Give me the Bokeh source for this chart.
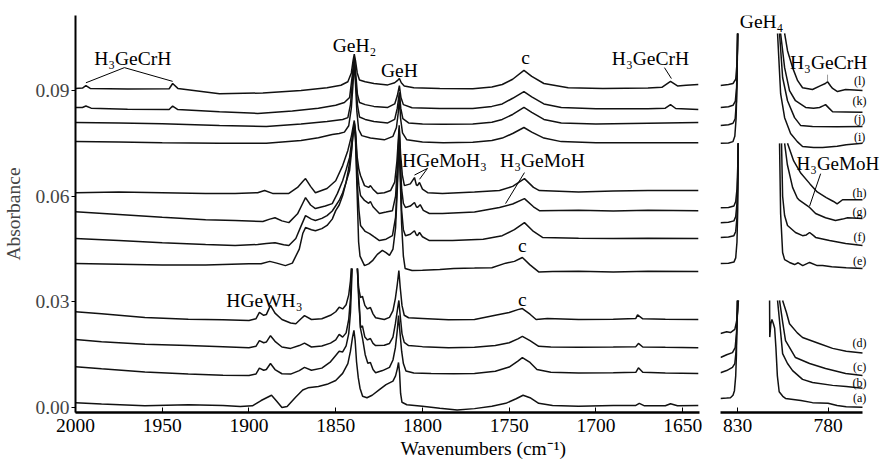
import numpy as np
from bokeh.plotting import figure
from bokeh.layouts import row
from bokeh.models import Range1d, FixedTicker, PrintfTickFormatter, Label, Title
from bokeh.embed import file_html
from bokeh.resources import INLINE

NAN = float("nan")
GAP = (NAN, NAN)

# ---------------- left panel spectra (wavenumber cm-1, absorbance) ----------------
a_left = [(2000, 0.0014), (1985, 0.0010), (1960, 0.0005), (1935, 0.0008), (1915, 0.0006), (1905, 0.0003),
          (1898, 0.0005), (1893, 0.0020), (1887, 0.0035), (1884, 0.0018), (1881, 0.0000), (1878, 0.0003),
          (1873, 0.0030), (1869, 0.0050), (1866, 0.0056), (1860, 0.0060), (1855, 0.0066), (1850, 0.0077),
          (1846, 0.0097), (1843, 0.0125), (1841.5, 0.0160), (1840.3, 0.0200), (1839.5, 0.0219), (1838.8, 0.0190),
          (1838, 0.0130), (1837, 0.0085), (1836, 0.0055), (1834.5, 0.0032), (1832, 0.0028), (1829, 0.0035),
          (1825, 0.0050), (1821, 0.0065), (1819, 0.0070), (1817, 0.0075), (1815.5, 0.0090), (1814.5, 0.0110),
          (1813.8, 0.0128), (1813.2, 0.0100), (1812.6, 0.0040), (1811.8, 0.0015), (1809, 0.0008), (1800, 0.0004),
          (1790, -0.0002), (1780, -0.0007), (1770, -0.0003), (1760, 0.0004), (1752, 0.0012), (1746, 0.0025),
          (1742, 0.0035), (1738, 0.0028), (1733, 0.0012), (1725, 0.0006), (1710, 0.0004), (1690, 0.0006),
          (1677, 0.0006), (1675, 0.0012), (1672, 0.0005), (1660, 0.0005), (1657, 0.0011), (1653, 0.0005),
          (1641, 0.0006)]

b_left = [(2000, 0.0116), (1985, 0.0110), (1960, 0.0101), (1935, 0.0095), (1915, 0.0092), (1900, 0.0091),
          (1896, 0.0095), (1894, 0.0112), (1891.5, 0.0106), (1890, 0.0108), (1887.6, 0.0125), (1885, 0.0108),
          (1881, 0.0096), (1876, 0.0095), (1871, 0.0105), (1868, 0.0114), (1864, 0.0106), (1858, 0.0112),
          (1853, 0.0130), (1850, 0.0148), (1848, 0.0160), (1846, 0.0158), (1844, 0.0175), (1842.5, 0.0210),
          (1841.5, 0.0270), (1840.5, 0.0395), GAP, (1837.5, 0.0395), (1836.5, 0.0300), (1835.7, 0.0224),
          (1834.5, 0.0195), (1833, 0.0150), (1831.5, 0.0126), (1830, 0.0128), (1828.5, 0.0108), (1827, 0.0099),
          (1823, 0.0105), (1819, 0.0114), (1817, 0.0135), (1815.6, 0.0170), (1814.5, 0.0220), (1813.8, 0.0261),
          (1813, 0.0215), (1812, 0.0160), (1811, 0.0125), (1809.5, 0.0104), (1805, 0.0098), (1795, 0.0097),
          (1782, 0.0096), (1770, 0.0097), (1758, 0.0103), (1750, 0.0115), (1745, 0.0132), (1742.4, 0.0142),
          (1738, 0.0128), (1734, 0.0108), (1726, 0.0100), (1710, 0.0098), (1690, 0.0099), (1677, 0.0100),
          (1675.5, 0.0113), (1673, 0.0100), (1660, 0.0098), (1641, 0.0097)]

c_left = [(2000, 0.0193), (1985, 0.0187), (1960, 0.0180), (1935, 0.0176), (1915, 0.0173), (1900, 0.0170),
          (1896, 0.0174), (1894, 0.0190), (1891.5, 0.0184), (1890, 0.0186), (1887.6, 0.0204), (1885, 0.0188),
          (1881, 0.0172), (1876, 0.0168), (1871, 0.0176), (1868, 0.0183), (1864, 0.0172), (1858, 0.0175),
          (1853, 0.0183), (1850, 0.0192), (1848, 0.0208), (1846, 0.0200), (1844, 0.0212), (1842.5, 0.0250),
          (1841.5, 0.0310), (1840.8, 0.0395), GAP, (1837.5, 0.0395), (1836.7, 0.0300), (1835.7, 0.0227),
          (1834.6, 0.0232), (1833.2, 0.0200), (1831.7, 0.0192), (1830, 0.0196), (1828.5, 0.0182), (1827, 0.0176),
          (1822, 0.0177), (1819, 0.0182), (1817, 0.0200), (1815.6, 0.0238), (1814.5, 0.0275), (1813.6, 0.0304),
          (1812.8, 0.0260), (1811.8, 0.0210), (1810.5, 0.0185), (1808, 0.0176), (1800, 0.0173), (1785, 0.0170),
          (1770, 0.0171), (1758, 0.0176), (1750, 0.0184), (1745, 0.0195), (1742.4, 0.0202), (1738, 0.0190),
          (1733, 0.0174), (1726, 0.0172), (1710, 0.0171), (1690, 0.0172), (1677, 0.0173), (1675.5, 0.0182),
          (1673, 0.0172), (1660, 0.0171), (1641, 0.0170)]

d_left = [(2000, 0.0272), (1985, 0.0266), (1960, 0.0256), (1935, 0.0251), (1915, 0.0249), (1900, 0.0247),
          (1896, 0.0252), (1894, 0.0270), (1891.5, 0.0262), (1890, 0.0264), (1887.6, 0.0290), (1885, 0.0268),
          (1881, 0.0250), (1876, 0.0240), (1873, 0.0238), (1870, 0.0252), (1868, 0.0261), (1864, 0.0250),
          (1858, 0.0252), (1853, 0.0262), (1850, 0.0272), (1848, 0.0285), (1846, 0.0280), (1844, 0.0292),
          (1842.5, 0.0320), (1841.5, 0.0360), (1841, 0.0395), GAP, (1837.5, 0.0395), (1836.8, 0.0340),
          (1835.7, 0.0312), (1834.6, 0.0316), (1833.2, 0.0290), (1831.7, 0.0280), (1830, 0.0284), (1828.5, 0.0266),
          (1827, 0.0255), (1822, 0.0250), (1819, 0.0256), (1817, 0.0275), (1815.6, 0.0310), (1814.5, 0.0350),
          (1813.6, 0.0389), (1812.8, 0.0340), (1811.8, 0.0290), (1810.5, 0.0262), (1808, 0.0255), (1800, 0.0253),
          (1785, 0.0249), (1770, 0.0250), (1758, 0.0262), (1750, 0.0270), (1745, 0.0278), (1742.4, 0.0281),
          (1738, 0.0265), (1734.5, 0.0250), (1728, 0.0253), (1710, 0.0250), (1690, 0.0251), (1677, 0.0253),
          (1676, 0.0263), (1673, 0.0252), (1660, 0.0251), (1641, 0.0250)]

e_left = [(2000, 0.0409), (1975, 0.0407), (1950, 0.0405), (1925, 0.0405), (1900, 0.0408), (1893, 0.0408),
          (1888, 0.0415), (1884, 0.0410), (1879, 0.0403), (1875, 0.0410), (1871, 0.0450), (1869, 0.0494),
          (1867.4, 0.0511), (1864, 0.0505), (1861.7, 0.0502), (1858, 0.0508), (1855, 0.0517), (1852, 0.0535),
          (1850, 0.0559), (1848, 0.0575), (1846, 0.0602), (1844, 0.0640), (1842.5, 0.0680), (1841, 0.0730),
          (1840, 0.0775), (1839.3, 0.0801), (1838.6, 0.0760), (1837.6, 0.0600), (1836.8, 0.0470), (1836, 0.0430),
          (1833.4, 0.0403), (1831, 0.0408), (1828.8, 0.0417), (1826, 0.0435), (1823.1, 0.0446), (1821, 0.0440),
          (1819, 0.0432), (1817, 0.0450), (1815.5, 0.0510), (1814.5, 0.0620), (1813.5, 0.0758), (1812.8, 0.0650),
          (1812, 0.0520), (1811, 0.0430), (1810, 0.0395), (1806, 0.0389), (1800, 0.0390), (1790, 0.0392),
          (1782, 0.0395), (1770, 0.0396), (1760, 0.0397), (1752, 0.0410), (1747, 0.0415), (1742.4, 0.0426),
          (1738, 0.0405), (1733, 0.0385), (1725, 0.0386), (1710, 0.0387), (1690, 0.0385), (1670, 0.0387),
          (1641, 0.0386)]

f_left = [(2000, 0.0480), (1975, 0.0474), (1950, 0.0468), (1925, 0.0463), (1908, 0.0460), (1895, 0.0463),
          (1890, 0.0466), (1885, 0.0468), (1880, 0.0462), (1877, 0.0460), (1873, 0.0480), (1870, 0.0515),
          (1867.4, 0.0545), (1864, 0.0535), (1861.7, 0.0531), (1858, 0.0537), (1855, 0.0545), (1852, 0.0558),
          (1850, 0.0573), (1848, 0.0588), (1846, 0.0610), (1844, 0.0640), (1842, 0.0673), (1840.8, 0.0730),
          (1840, 0.0780), (1839.3, 0.0806), (1838.6, 0.0770), (1837.6, 0.0640), (1836.6, 0.0560), (1835.7, 0.0517),
          (1833, 0.0500), (1830.5, 0.0494), (1828, 0.0485), (1824.8, 0.0474), (1821, 0.0478), (1817.3, 0.0488),
          (1815.5, 0.0540), (1814.5, 0.0640), (1813.4, 0.0786), (1812.8, 0.0680), (1812, 0.0560), (1811, 0.0505),
          (1809.8, 0.0488), (1807, 0.0492), (1804.6, 0.0502), (1803.5, 0.0490), (1802.9, 0.0488), (1801.7, 0.0497),
          (1800, 0.0485), (1796, 0.0474), (1782.7, 0.0474), (1765, 0.0478), (1754, 0.0488), (1747, 0.0505),
          (1741.2, 0.0525), (1736, 0.0500), (1730.8, 0.0483), (1710, 0.0481), (1690, 0.0480), (1670, 0.0481),
          (1641, 0.0480)]

g_left = [(2000, 0.0556), (1975, 0.0548), (1950, 0.0540), (1925, 0.0533), (1908, 0.0531), (1892, 0.0528),
          (1888, 0.0535), (1885, 0.0539), (1881, 0.0530), (1877, 0.0525), (1872, 0.0550), (1869, 0.0580),
          (1867.4, 0.0596), (1864.5, 0.0575), (1861.7, 0.0565), (1856, 0.0572), (1852, 0.0579), (1849, 0.0608),
          (1846, 0.0644), (1844, 0.0675), (1842, 0.0710), (1840.5, 0.0765), (1839.3, 0.0809), (1838.6, 0.0780),
          (1837.6, 0.0680), (1836.6, 0.0630), (1835.7, 0.0602), (1833.4, 0.0588), (1831, 0.0580), (1830, 0.0585),
          (1828.5, 0.0570), (1824.8, 0.0551), (1821, 0.0555), (1817.3, 0.0559), (1815.5, 0.0600), (1814.5, 0.0680),
          (1813.4, 0.0792), (1812.8, 0.0700), (1812, 0.0620), (1811, 0.0580), (1809.8, 0.0568), (1807, 0.0572),
          (1804.6, 0.0582), (1803.5, 0.0570), (1802.9, 0.0568), (1801.3, 0.0576), (1799.5, 0.0560), (1796, 0.0551),
          (1788.5, 0.0551), (1770, 0.0555), (1755.6, 0.0568), (1748, 0.0578), (1741.2, 0.0593), (1736, 0.0570),
          (1732.6, 0.0559), (1710, 0.0560), (1690, 0.0558), (1670, 0.0560), (1641, 0.0559)]

h_left = [(2000, 0.0610), (1975, 0.0612), (1950, 0.0610), (1925, 0.0608), (1908, 0.0608), (1895, 0.0610),
          (1891, 0.0616), (1886.4, 0.0608), (1877, 0.0608), (1872, 0.0625), (1869, 0.0642), (1867.4, 0.0650),
          (1864.5, 0.0628), (1861.7, 0.0610), (1855, 0.0622), (1850, 0.0644), (1846, 0.0687), (1843, 0.0730),
          (1841, 0.0770), (1839.3, 0.0815), (1838.6, 0.0785), (1837.6, 0.0710), (1836.6, 0.0675), (1835.7, 0.0659),
          (1833.4, 0.0630), (1831, 0.0625), (1830, 0.0630), (1828.5, 0.0620), (1826, 0.0608), (1822, 0.0610),
          (1818.4, 0.0616), (1816, 0.0640), (1814.7, 0.0700), (1813.4, 0.0801), (1812.6, 0.0720), (1811.6, 0.0660),
          (1810.4, 0.0630), (1807, 0.0635), (1804.6, 0.0653), (1803.5, 0.0632), (1802.9, 0.0630), (1801.7, 0.0639),
          (1800, 0.0620), (1797, 0.0610), (1788.5, 0.0608), (1770, 0.0612), (1755.6, 0.0616), (1748, 0.0628),
          (1741.2, 0.0650), (1736, 0.0625), (1732.6, 0.0616), (1710, 0.0612), (1690, 0.0615), (1670, 0.0616),
          (1641, 0.0616)]

i_left = [(2000, 0.0755), (1975, 0.0754), (1950, 0.0752), (1917, 0.0750), (1890, 0.0750), (1870, 0.0758),
          (1860, 0.0766), (1852, 0.0775), (1848, 0.0778), (1845, 0.0782), (1842.5, 0.0800), (1841, 0.0850),
          (1840, 0.0920), (1839.3, 0.0985), (1838.6, 0.0920), (1837.8, 0.0840), (1836.8, 0.0790), (1835, 0.0772),
          (1830, 0.0765), (1822, 0.0760), (1817, 0.0770), (1815, 0.0795), (1814, 0.0835), (1813.3, 0.0880),
          (1812.6, 0.0820), (1811.5, 0.0780), (1809, 0.0760), (1800, 0.0754), (1788, 0.0752), (1771, 0.0753),
          (1760, 0.0758), (1754, 0.0765), (1748, 0.0778), (1741.5, 0.0795), (1737, 0.0782), (1730, 0.0765),
          (1720, 0.0755), (1700, 0.0752), (1670, 0.0752), (1641, 0.0752)]

j_left = [(2000, 0.0809), (1975, 0.0808), (1950, 0.0806), (1917, 0.0801), (1890, 0.0798), (1870, 0.0805),
          (1855, 0.0812), (1846, 0.0818), (1843, 0.0823), (1841.5, 0.0860), (1840.3, 0.0930), (1839.3, 0.0990),
          (1838.5, 0.0930), (1837.5, 0.0860), (1836.3, 0.0825), (1833, 0.0818), (1828, 0.0812), (1820, 0.0808),
          (1816, 0.0818), (1814.5, 0.0850), (1813.3, 0.0895), (1812.5, 0.0850), (1811.3, 0.0820), (1808, 0.0808),
          (1800, 0.0805), (1788, 0.0804), (1771, 0.0805), (1760, 0.0810), (1754, 0.0818), (1748, 0.0832),
          (1741.5, 0.0852), (1737, 0.0838), (1730, 0.0818), (1720, 0.0808), (1700, 0.0805), (1670, 0.0807),
          (1641, 0.0809)]

k_left = [(2000, 0.0852), (1996, 0.0852), (1994, 0.0856), (1991, 0.0850), (1970, 0.0847), (1946, 0.0846),
          (1944, 0.0856), (1941, 0.0846), (1917, 0.0840), (1895, 0.0835), (1875, 0.0842), (1860, 0.0850),
          (1850, 0.0858), (1845, 0.0866), (1842, 0.0880), (1840.5, 0.0940), (1839.3, 0.0995), (1838.5, 0.0950),
          (1837.5, 0.0890), (1836.3, 0.0866), (1833, 0.0860), (1828, 0.0855), (1820, 0.0852), (1816, 0.0862),
          (1814.5, 0.0885), (1813.3, 0.0914), (1812.4, 0.0880), (1811, 0.0860), (1806, 0.0851), (1790, 0.0849),
          (1771, 0.0849), (1760, 0.0855), (1754, 0.0862), (1748, 0.0878), (1741.5, 0.0897), (1737, 0.0882),
          (1730, 0.0862), (1720, 0.0852), (1700, 0.0848), (1670, 0.0848), (1660, 0.0850), (1657, 0.0860),
          (1654, 0.0849), (1641, 0.0846)]

l_left = [(2000, 0.0906), (1996, 0.0907), (1994, 0.0914), (1991.5, 0.0906), (1970, 0.0904), (1946, 0.0905),
          (1944, 0.0920), (1941, 0.0906), (1917, 0.0891), (1892, 0.0893), (1870, 0.0900), (1855, 0.0908),
          (1847, 0.0915), (1843, 0.0925), (1841, 0.0950), (1840, 0.0985), (1839.3, 0.1003), (1838.6, 0.0985),
          (1837.6, 0.0950), (1836.3, 0.0930), (1833, 0.0925), (1828, 0.0920), (1820, 0.0916), (1816, 0.0922),
          (1814.5, 0.0928), (1813.3, 0.0934), (1812.2, 0.0922), (1810.5, 0.0913), (1805, 0.0908), (1790, 0.0906),
          (1771, 0.0905), (1760, 0.0910), (1754, 0.0917), (1748, 0.0932), (1741.5, 0.0957), (1737, 0.0940),
          (1730, 0.0920), (1716, 0.0908), (1696, 0.0906), (1670, 0.0907), (1662, 0.0909), (1657, 0.0926),
          (1653, 0.0913), (1648, 0.0915), (1641, 0.0917)]

# ---------------- right panel spectra (GeH4 region) ----------------
a_right = [(839.4, 0.0026), (836, 0.0027), (833.9, 0.0028), (832.5, 0.0035), (831.7, 0.0048), (831, 0.0090),
           (830.6, 0.0150), (830.2, 0.0304), GAP, (812.3, 0.0304), (812.2, 0.0200), (811.6, 0.0238),
           (811.0, 0.0250), (810.2, 0.0238), (809.5, 0.0225), (808.8, 0.0170), (808.0, 0.0090), (807.0, 0.0045),
           (805, 0.0032), (803.5, 0.0026), (795, 0.0020), (788.6, 0.0014), (780, 0.0012), (775, 0.0006),
           (770, 0.0002), (761, 0.0001)]
b_right = [(839.4, 0.0099), (836, 0.0105), (832.8, 0.0114), (831.5, 0.0125), (830.8, 0.0160), (830.3, 0.0230),
           (829.9, 0.0304), GAP, (807.9, 0.0304), (806.5, 0.0230), (805.1, 0.0153), (802.4, 0.0125),
           (799.6, 0.0105), (794.1, 0.0080), (788.6, 0.0071), (777.5, 0.0063), (770, 0.0060), (761, 0.0055)]
c_right = [(839.4, 0.0142), (836, 0.0150), (832.8, 0.0156), (831.3, 0.0170), (830.6, 0.0210), (830.1, 0.0260),
           (829.7, 0.0304), GAP, (806.8, 0.0304), (805, 0.0240), (803.5, 0.0190), (798, 0.0142),
           (790.2, 0.0125), (781.4, 0.0111), (770.3, 0.0097), (761, 0.0091)]
d_right = [(839.4, 0.0210), (836, 0.0215), (833.9, 0.0213), (831.5, 0.0222), (830.5, 0.0245), (829.9, 0.0275),
           (829.5, 0.0304), GAP, (805.1, 0.0304), (803, 0.0270), (801.3, 0.0238), (797, 0.0212),
           (794.1, 0.0199), (785, 0.0182), (777.5, 0.0168), (770, 0.0160), (761, 0.0155)]
e_right = [(839.4, 0.0409), (835, 0.0410), (832, 0.0413), (831, 0.0425), (830.3, 0.0470), (829.9, 0.0560),
           (829.6, 0.0750), GAP, (806.8, 0.0750), (806.2, 0.0550), (805.1, 0.0440), (804, 0.0420),
           (801.3, 0.0412), (798.5, 0.0406), (796.5, 0.0411), (794, 0.0403), (790.2, 0.0412), (786, 0.0403),
           (783, 0.0403), (778, 0.0400), (770, 0.0397), (761, 0.0395)]
f_right = [(839.4, 0.0483), (835, 0.0484), (832, 0.0488), (831, 0.0500), (830.3, 0.0540), (829.9, 0.0620),
           (829.6, 0.0750), GAP, (805.7, 0.0750), (805.1, 0.0600), (804, 0.0545), (802.4, 0.0517),
           (798, 0.0497), (794.1, 0.0488), (792, 0.0490), (790.2, 0.0497), (788, 0.0488), (786.9, 0.0483),
           (779.2, 0.0474), (770.3, 0.0466), (761, 0.0460)]
g_right = [(839.4, 0.0525), (835, 0.0526), (832, 0.0530), (831, 0.0542), (830.3, 0.0580), (829.9, 0.0650),
           (829.6, 0.0750), GAP, (804.0, 0.0750), (802.5, 0.0690), (799.6, 0.0625), (797, 0.0595),
           (795.7, 0.0588), (790.2, 0.0568), (786.9, 0.0551), (781.4, 0.0539), (775.9, 0.0531), (772, 0.0535),
           (769.2, 0.0539), (761, 0.0537)]
h_right = [(839.4, 0.0567), (835, 0.0568), (832, 0.0572), (831, 0.0585), (830.3, 0.0620), (829.9, 0.0680),
           (829.6, 0.0750), GAP, (802.4, 0.0750), (799, 0.0700), (795, 0.0665), (790, 0.0635), (786, 0.0612),
           (781, 0.0596), (777, 0.0585), (775, 0.0578), (772, 0.0590), (768, 0.0590), (761, 0.0590)]
i_right = [(839.4, 0.0750), (835, 0.0751), (832.5, 0.0755), (831.5, 0.0770), (830.8, 0.0820), (830.3, 0.0920),
           (830.0, 0.1062), GAP, (807.9, 0.1062), (806.2, 0.0891), (804, 0.0823), (800.7, 0.0778),
           (797, 0.0755), (794.1, 0.0741), (788, 0.0738), (783, 0.0738), (775, 0.0742), (770, 0.0746),
           (761, 0.0750)]
j_right = [(839.4, 0.0801), (835, 0.0803), (832.5, 0.0807), (831.3, 0.0820), (830.6, 0.0870), (830.2, 0.0960),
           (830.0, 0.1062), GAP, (806.8, 0.1062), (805.1, 0.0937), (802.4, 0.0871), (798.5, 0.0823),
           (795.2, 0.0801), (788.6, 0.0798), (775, 0.0797), (761, 0.0798)]
k_right = [(839.4, 0.0852), (835, 0.0854), (832.5, 0.0858), (831.2, 0.0870), (830.5, 0.0910), (830.1, 0.0990),
           (829.9, 0.1062), GAP, (806.2, 0.1062), (804, 0.0965), (801.3, 0.0900), (798, 0.0871),
           (792.4, 0.0852), (788, 0.0850), (784.7, 0.0852), (782.5, 0.0857), (781.4, 0.0860), (779.5, 0.0850),
           (777.5, 0.0840), (770, 0.0839), (761, 0.0838)]
l_right = [(839.4, 0.0914), (835, 0.0917), (832.5, 0.0920), (831, 0.0932), (830.4, 0.0970), (830.0, 0.1020),
           (829.8, 0.1062), GAP, (804.0, 0.1062), (802.4, 0.1013), (799.6, 0.0965), (796.8, 0.0928),
           (794.1, 0.0908), (788.6, 0.0903), (784.1, 0.0914), (781.5, 0.0920), (780.3, 0.0925), (778.5, 0.0912),
           (777.5, 0.0906), (774.8, 0.0897), (770.3, 0.0903), (761, 0.0900)]

trace_names = ["(a)", "(b)", "(c)", "(d)", "(e)", "(f)", "(g)", "(h)", "(i)", "(j)", "(k)", "(l)"]
left_traces = [a_left, b_left, c_left, d_left, e_left, f_left, g_left, h_left, i_left, j_left, k_left, l_left]
right_traces = [a_right, b_right, c_right, d_right, e_right, f_right, g_right, h_right, i_right, j_right,
                k_right, l_right]

left_ticks = [2000, 1950, 1900, 1850, 1800, 1750, 1700, 1650]
right_ticks = [830, 780]
y_ticks = [0.00, 0.03, 0.06, 0.09]

FONT = "Liberation Serif"
INK = "#111111"

y_range = Range1d(-0.0014, 0.1113)


def style(p, ticks):
    p.background_fill_color = "white"
    p.border_fill_color = "white"
    p.outline_line_color = None
    p.grid.visible = False
    ax = p.xaxis[0]
    ax.ticker = FixedTicker(ticks=ticks)
    ax.axis_line_width = 2.5
    ax.axis_line_color = "black"
    ax.major_tick_in = 5
    ax.major_tick_out = 0
    ax.major_tick_line_color = "black"
    ax.minor_tick_line_color = None
    ax.major_label_text_font = FONT
    ax.major_label_text_font_size = "19.5px"
    ax.major_label_text_color = "black"
    ax.major_label_standoff = 6
    return ax


def add_text(p, x, y, text, size="19.5px", color="black"):
    p.add_layout(Label(x=x, y=y, text=text, text_font=FONT, text_font_size=size,
                       text_align="center", text_baseline="middle", text_color=color))


# ---------------- left figure ----------------
p1 = figure(frame_width=624, frame_height=397, min_border_left=73, min_border_right=10,
            min_border_top=15, min_border_bottom=0,
            x_range=Range1d(2000, 1640.3), y_range=y_range,
            output_backend="svg", toolbar_location=None)
style(p1, left_ticks)
yax = p1.yaxis[0]
yax.ticker = FixedTicker(ticks=y_ticks)
yax.formatter = PrintfTickFormatter(format="%.2f")
yax.axis_line_width = 2
yax.axis_line_color = "black"
yax.major_tick_in = 0
yax.major_tick_out = 4
yax.minor_tick_line_color = None
yax.major_label_text_font = FONT
yax.major_label_text_font_size = "19.5px"
yax.major_label_standoff = 2
yax.axis_label = "Absorbance"
yax.axis_label_text_font = FONT
yax.axis_label_text_font_size = "19.5px"
yax.axis_label_text_font_style = "normal"
yax.axis_label_standoff = 8

for tr in left_traces:
    xs = np.array([pt[0] for pt in tr], dtype=float)
    ys = np.array([pt[1] for pt in tr], dtype=float)
    p1.line(xs, ys, line_color=INK, line_width=1.5)

# leader lines for the peak labels
p1.segment(x0=[1971.8, 1971.8, 1797.1, 1797.1, 1741.2, 1660.5],
           y0=[0.0965, 0.0965, 0.0679, 0.0679, 0.0667, 0.0965],
           x1=[1994.0, 1944.0, 1804.6, 1801.7, 1752.1, 1656.5],
           y1=[0.0922, 0.0926, 0.0660, 0.0648, 0.0579, 0.0934],
           line_color="black", line_width=1)

add_text(p1, 1967.0, 0.0991, "H₃GeCrH")
add_text(p1, 1839.2, 0.1028, "GeH₂")
add_text(p1, 1813.3, 0.0957, "GeH")
add_text(p1, 1787.3, 0.0701, "HGeMoH₃")
add_text(p1, 1730.8, 0.0701, "H₃GeMoH")
add_text(p1, 1740.6, 0.0994, "c")
add_text(p1, 1742.4, 0.0460, "c")
add_text(p1, 1742.4, 0.0306, "c")
add_text(p1, 1891.1, 0.0304, "HGeWH₃")
add_text(p1, 1668.6, 0.0991, "H₃GeCrH")

p1.add_layout(Title(text="Wavenumbers (cm⁻¹)", align="left", offset=325, standoff=2,
                    text_font=FONT, text_font_size="19.5px", text_font_style="normal",
                    text_color="black"), "below")

# ---------------- right figure ----------------
p2 = figure(frame_width=163, frame_height=397, min_border_left=11, min_border_right=0,
            min_border_top=15, min_border_bottom=0,
            x_range=Range1d(839.4, 749.4), y_range=y_range, y_axis_location=None,
            output_backend="svg", toolbar_location=None)
ax2 = style(p2, right_ticks)
ax2.bounds = (761.0, 839.4)

for tr in right_traces:
    xs = np.array([pt[0] for pt in tr], dtype=float)
    ys = np.array([pt[1] for pt in tr], dtype=float)
    p2.line(xs, ys, line_color=INK, line_width=1.5)

p2.segment(x0=[780.3], y0=[0.0945], x1=[780.3], y1=[0.0927], line_color="#999999", line_width=1)
p2.segment(x0=[784.1], y0=[0.0664], x1=[790.2], y1=[0.0572], line_color="black", line_width=1)

add_text(p2, 816.7, 0.1096, "GeH₄")
add_text(p2, 779.7, 0.0979, "H₃GeCrH")
add_text(p2, 774.6, 0.0693, "H₃GeMoH", size="19px")

label_y = [0.0026, 0.0071, 0.0116, 0.0182, 0.0417, 0.0483, 0.0556, 0.0610, 0.0767, 0.0820, 0.0869, 0.0928]
for name, yy in zip(trace_names, label_y):
    add_text(p2, 762.6, yy, name, size="12px")

layout = row(p1, p2)
open("out.html", "w").write(file_html(layout, INLINE))
